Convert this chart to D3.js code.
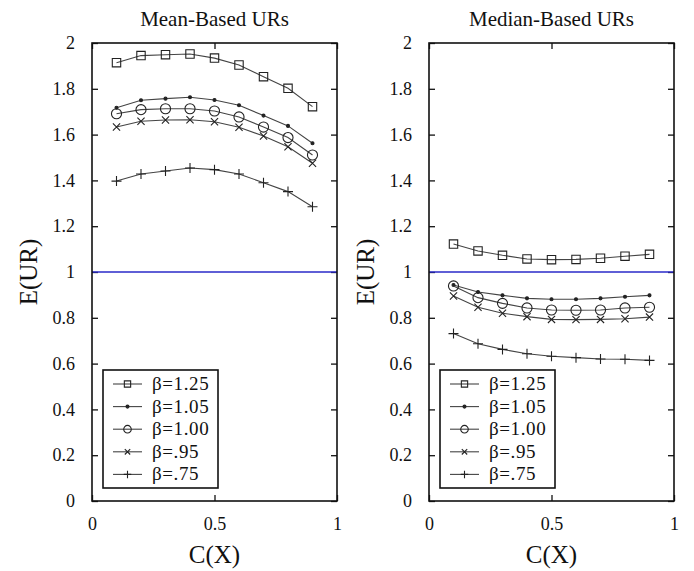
<!DOCTYPE html>
<html>
<head>
<meta charset="utf-8">
<script src="https://cdn.jsdelivr.net/npm/d3@7"></script>
<style>
    body { margin: 0; background: #fff; }
    text { font-family: "Liberation Serif", "Times New Roman", serif; fill: #111; }
</style>
</head>
<body>
<div id="chart"></div>
<script>
// x values (C(X)) shared by every curve
const cValues = [0.1, 0.2, 0.3, 0.4, 0.5, 0.6, 0.7, 0.8, 0.9];

const betaLabels = ["β=1.25", "β=1.05", "β=1.00", "β=.95", "β=.75"];
const betaMarkers = ["square", "dot", "circle", "x", "plus"];

// Mean-based URs
const meanB125 = [1.914, 1.945, 1.949, 1.952, 1.934, 1.904, 1.853, 1.802, 1.722];
const meanB105 = [1.717, 1.750, 1.757, 1.763, 1.751, 1.728, 1.683, 1.638, 1.562];
const meanB100 = [1.691, 1.709, 1.713, 1.713, 1.703, 1.677, 1.633, 1.587, 1.511];
const meanB095 = [1.633, 1.658, 1.664, 1.665, 1.656, 1.632, 1.594, 1.547, 1.475];
const meanB075 = [1.397, 1.428, 1.441, 1.454, 1.447, 1.428, 1.390, 1.351, 1.285];

// Median-based URs
const medB125 = [1.122, 1.092, 1.073, 1.057, 1.054, 1.055, 1.060, 1.069, 1.077];
const medB105 = [0.943, 0.913, 0.898, 0.885, 0.881, 0.881, 0.885, 0.892, 0.898];
const medB100 = [0.939, 0.888, 0.863, 0.843, 0.834, 0.833, 0.834, 0.843, 0.846];
const medB095 = [0.895, 0.846, 0.820, 0.805, 0.793, 0.792, 0.793, 0.796, 0.803];
const medB075 = [0.731, 0.687, 0.662, 0.643, 0.632, 0.626, 0.620, 0.619, 0.614];

// axis ticks
const xTicks = [0, 0.5, 1];
const xTickLabels = ["0", "0.5", "1"];
const yTicks = [0, 0.2, 0.4, 0.6, 0.8, 1, 1.2, 1.4, 1.6, 1.8, 2];
const yTickLabels = ["0", "0.2", "0.4", "0.6", "0.8", "1", "1.2", "1.4", "1.6", "1.8", "2"];
const refLine = 1;

class urPanel {

    constructor(svg, left, title, series) {
        this.svg = svg;
        this.left = left;
        this.title = title;
        this.series = series;
        this.initVis();
    }

    initVis() {
        let vis = this;

        vis.width = 245;
        vis.height = 458;
        vis.top = 43;

        vis.g = vis.svg.append("g")
            .attr("transform", `translate(${vis.left},${vis.top})`);

        vis.x = d3.scaleLinear().domain([0, 1]).range([0, vis.width]);
        vis.y = d3.scaleLinear().domain([0, 2]).range([vis.height, 0]);

        // inward ticks on all four sides
        let yLeft = d3.axisLeft(vis.y).tickValues(yTicks).tickSize(-6).tickPadding(17)
            .tickFormat((d, i) => yTickLabels[i]);
        let yRight = d3.axisRight(vis.y).tickValues(yTicks).tickSize(-6).tickFormat("");
        let xBottom = d3.axisBottom(vis.x).tickValues(xTicks).tickSize(-6).tickPadding(16)
            .tickFormat((d, i) => xTickLabels[i]);
        let xTop = d3.axisTop(vis.x).tickValues(xTicks).tickSize(-6).tickFormat("");

        vis.g.append("g").call(yLeft);
        vis.g.append("g").attr("transform", `translate(${vis.width},0)`).call(yRight);
        vis.g.append("g").attr("transform", `translate(0,${vis.height})`).call(xBottom);
        vis.g.append("g").call(xTop);

        vis.g.selectAll(".domain").remove();
        vis.g.selectAll(".tick line").attr("stroke", "#111").attr("stroke-width", 1.3);
        vis.g.selectAll(".tick text")
            .style("font-family", "'Liberation Serif', serif")
            .style("font-size", "18px")
            .attr("fill", "#111");

        // reference line at 1
        vis.g.append("line")
            .attr("x1", 0).attr("x2", vis.width)
            .attr("y1", vis.y(refLine)).attr("y2", vis.y(refLine))
            .attr("stroke", "#2a2ac8")
            .attr("stroke-width", 1.6);

        // curves
        let line = d3.line()
            .x((d, i) => vis.x(cValues[i]))
            .y(d => vis.y(d));

        vis.series.forEach((s, k) => {
            vis.g.append("path")
                .datum(s)
                .attr("d", line)
                .attr("fill", "none")
                .attr("stroke", "#444")
                .attr("stroke-width", 1.1);

            vis.g.selectAll(null)
                .data(s)
                .enter()
                .append("path")
                .attr("transform", (d, i) => `translate(${vis.x(cValues[i])},${vis.y(d)})`)
                .call(sel => drawMarker(sel, betaMarkers[k], 1));
        });

        // frame
        vis.g.append("rect")
            .attr("width", vis.width)
            .attr("height", vis.height)
            .attr("fill", "none")
            .attr("stroke", "#111")
            .attr("stroke-width", 1.6);

        // legend
        let legend = vis.g.append("g").attr("transform", "translate(11,327)");
        legend.append("rect")
            .attr("width", 115)
            .attr("height", 118)
            .attr("fill", "#fff")
            .attr("stroke", "#111")
            .attr("stroke-width", 1.6);

        betaLabels.forEach((lab, k) => {
            let yy = 14 + k * 22.6;
            legend.append("line")
                .attr("x1", 10).attr("x2", 39)
                .attr("y1", yy).attr("y2", yy)
                .attr("stroke", "#444")
                .attr("stroke-width", 1.1);
            legend.append("path")
                .attr("transform", `translate(24.5,${yy})`)
                .call(sel => drawMarker(sel, betaMarkers[k], 0.75));
            legend.append("text")
                .attr("x", 49)
                .attr("y", yy + 6)
                .style("font-size", "19px")
                .style("letter-spacing", "0.6px")
                .text(lab);
        });

        // titles
        vis.g.append("text")
            .attr("x", vis.width / 2)
            .attr("y", -17)
            .attr("text-anchor", "middle")
            .style("font-size", "21px")
            .text(vis.title);

        vis.g.append("text")
            .attr("x", vis.width / 2)
            .attr("y", vis.height + 62)
            .attr("text-anchor", "middle")
            .style("font-size", "25px")
            .text("C(X)");

        vis.g.append("text")
            .attr("transform", `translate(-55,${vis.y(1)}) rotate(-90)`)
            .attr("text-anchor", "middle")
            .style("font-size", "25px")
            .text("E(UR)");
    }
}

function drawMarker(sel, kind, scale) {
    let path;
    if (kind === "square") {
        let h = 4.2 * scale;
        path = `M${-h},${-h}H${h}V${h}H${-h}Z`;
    } else if (kind === "circle") {
        path = d3.symbol(d3.symbolCircle, 80 * scale * scale)();
    } else if (kind === "x") {
        let h = 3.6 * scale;
        path = `M${-h},${-h}L${h},${h}M${-h},${h}L${h},${-h}`;
    } else if (kind === "plus") {
        let h = 5 * scale;
        path = `M${-h},0H${h}M0,${-h}V${h}`;
    } else {
        path = d3.symbol(d3.symbolCircle, 7)();
    }
    sel.attr("d", path)
        .attr("fill", kind === "dot" ? "#222" : "none")
        .attr("stroke", "#222")
        .attr("stroke-width", 1.1);
}

const svg = d3.select("#chart")
    .append("svg")
    .attr("width", 694)
    .attr("height", 571);

new urPanel(svg, 92, "Mean-Based URs", [meanB125, meanB105, meanB100, meanB095, meanB075]);
new urPanel(svg, 429, "Median-Based URs", [medB125, medB105, medB100, medB095, medB075]);
</script>
</body>
</html>
